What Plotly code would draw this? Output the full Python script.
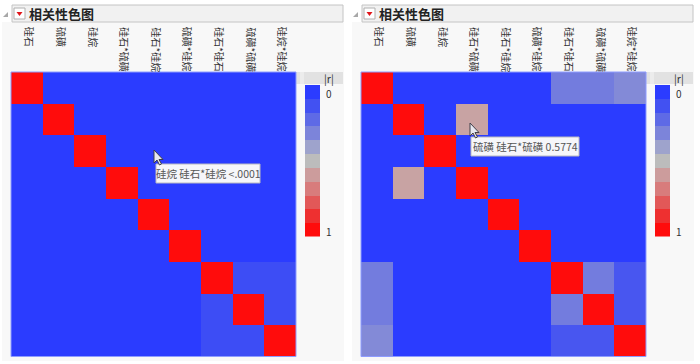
import plotly.graph_objects as go

# ---------------- data ----------------
labels = ["硅石", "硫磺", "硅烷", "硅石*硫磺", "硅石*硅烷", "硫磺*硅烷",
          "硅石*硅石", "硫磺*硫磺", "硅烷*硅烷"]

left_r = [
    [1, 0, 0, 0, 0, 0, 0, 0, 0],
    [0, 1, 0, 0, 0, 0, 0, 0, 0],
    [0, 0, 1, 0, 0, 0, 0, 0, 0],
    [0, 0, 0, 1, 0, 0, 0, 0, 0],
    [0, 0, 0, 0, 1, 0, 0, 0, 0],
    [0, 0, 0, 0, 0, 1, 0, 0, 0],
    [0, 0, 0, 0, 0, 0, 1, 0.08, 0.08],
    [0, 0, 0, 0, 0, 0, 0.08, 1, 0.08],
    [0, 0, 0, 0, 0, 0, 0.08, 0.08, 1],
]

right_r = [
    [1, 0, 0, 0, 0, 0, 0.27, 0.27, 0.32],
    [0, 1, 0, 0.5774, 0, 0, 0, 0, 0],
    [0, 0, 1, 0, 0, 0, 0, 0, 0],
    [0, 0.5774, 0, 1, 0, 0, 0, 0, 0],
    [0, 0, 0, 0, 1, 0, 0, 0, 0],
    [0, 0, 0, 0, 0, 1, 0, 0, 0],
    [0.27, 0, 0, 0, 0, 0, 1, 0.27, 0.12],
    [0.27, 0, 0, 0, 0, 0, 0.27, 1, 0.12],
    [0.32, 0, 0, 0, 0, 0, 0.12, 0.12, 1],
]

legend_levels = [0, 0.1, 0.2, 0.3, 0.4, 0.5, 0.6, 0.7, 0.8, 0.9, 1.0]
legend_colors = ["#2b3cff", "#4251f2", "#5e6ae6", "#7c84da", "#9ea3cc", "#bcbcbc",
                 "#cc9c9c", "#d87c7c", "#e25858", "#ee3030", "#ff0c0c"]
legend_tick_labels = ["0", "1"]
title_text = "相关性色图"
legend_title = "|r|"
tip_left = "硅烷 硅石*硅烷 <.0001"
tip_right = "硫磺 硅石*硫磺 0.5774"

# ---------------- helpers ----------------
W, H = 700, 364
FONT = "Noto Sans CJK SC, Noto Sans, sans-serif"


def X(px):
    return px / W


def Y(py):
    return 1 - py / H


colorscale = [[lv, c] for lv, c in zip(legend_levels, legend_colors)]

fig = go.Figure()
shapes = []
annotations = []

panels = [(0, left_r, tip_left, (154, 150), (156, 164, 260, 183)),
          (350, right_r, tip_right, (470, 123), (471, 137, 579, 156))]

axis_common = dict(showgrid=False, zeroline=False, showticklabels=False,
                   ticks="", showline=False, fixedrange=True)

for i, (ox, mat, tip, cur, tipbox) in enumerate(panels):
    # panel background
    shapes.append(dict(type="rect", xref="paper", yref="paper",
                       x0=X(ox + 2), x1=X(ox + 344), y0=Y(361), y1=Y(22),
                       fillcolor="#f8f8f8", line=dict(width=0), layer="below"))
    # title bar
    shapes.append(dict(type="rect", xref="paper", yref="paper",
                       x0=X(ox + 12), x1=X(ox + 343), y0=Y(22), y1=Y(5),
                       fillcolor="#f1f1f1", line=dict(color="#c4c4c4", width=1), layer="below"))
    # disclosure triangle
    shapes.append(dict(type="path", xref="paper", yref="paper",
                       path=f"M {X(ox+3)} {Y(17)} L {X(ox+8)} {Y(17)} L {X(ox+8)} {Y(12)} Z",
                       fillcolor="#a8a8a8", line=dict(width=0)))
    # red menu icon
    shapes.append(dict(type="rect", xref="paper", yref="paper",
                       x0=X(ox + 14), x1=X(ox + 25), y0=Y(19), y1=Y(8),
                       fillcolor="#ffffff", line=dict(color="#b0b0b0", width=1)))
    shapes.append(dict(type="path", xref="paper", yref="paper",
                       path=f"M {X(ox+16.5)} {Y(12)} L {X(ox+22.5)} {Y(12)} L {X(ox+19.5)} {Y(16)} Z",
                       fillcolor="#e0161b", line=dict(width=0)))
    annotations.append(dict(text=f"<b>{title_text}</b>", xref="paper", yref="paper",
                            x=X(ox + 27), y=Y(13.5), xanchor="left", yanchor="middle",
                            showarrow=False, font=dict(family=FONT, size=13, color="#222222")))
    # |r| header strip
    shapes.append(dict(type="rect", xref="paper", yref="paper",
                       x0=X(ox + 296), x1=X(ox + 343), y0=Y(84), y1=Y(72),
                       fillcolor="#e2e2e2", line=dict(width=0), layer="below"))
    shapes.append(dict(type="rect", xref="paper", yref="paper",
                       x0=X(ox + 300), x1=X(ox + 304), y0=Y(84), y1=Y(72),
                       fillcolor="#ececec", line=dict(width=0), layer="below"))
    annotations.append(dict(text=legend_title, xref="paper", yref="paper",
                            x=X(ox + 329), y=Y(78), xanchor="center", yanchor="middle",
                            showarrow=False, font=dict(family=FONT, size=10.5, color="#333333")))

    n = i * 2
    xa = "x" if n == 0 else f"x{n + 1}"
    ya = "y" if n == 0 else f"y{n + 1}"
    xb = f"x{n + 2}"
    yb = f"y{n + 2}"

    # correlation matrix
    fig.add_trace(go.Heatmap(z=mat, x=list(range(len(labels))), y=list(range(len(labels))),
                             colorscale=colorscale, zmin=0, zmax=1, showscale=False,
                             xaxis=xa, yaxis=ya, hoverinfo="skip"))
    # legend strip
    fig.add_trace(go.Heatmap(z=[[v] for v in legend_levels], x=[0],
                             y=list(range(len(legend_levels))),
                             colorscale=colorscale, zmin=0, zmax=1, showscale=False,
                             xaxis=xb, yaxis=yb, hoverinfo="skip"))

    key_xa = "xaxis" if n == 0 else f"xaxis{n + 1}"
    key_ya = "yaxis" if n == 0 else f"yaxis{n + 1}"
    fig.update_layout({
        key_xa: dict(domain=[X(ox + 11), X(ox + 296)], anchor=ya, **axis_common),
        key_ya: dict(domain=[Y(356.5), Y(72)], anchor=xa, autorange="reversed", **axis_common),
        f"xaxis{n + 2}": dict(domain=[X(ox + 305), X(ox + 320)], anchor=yb, **axis_common),
        f"yaxis{n + 2}": dict(domain=[Y(236.5), Y(85)], anchor=xb, autorange="reversed", **axis_common),
    })

    # matrix outline
    shapes.append(dict(type="rect", xref="paper", yref="paper",
                       x0=X(ox + 11), x1=X(ox + 296), y0=Y(356.5), y1=Y(72),
                       line=dict(color="#8e9cff", width=1)))

    # legend tick labels
    annotations.append(dict(text=legend_tick_labels[0], xref="paper", yref="paper",
                            x=X(ox + 324), y=Y(93), xanchor="left", yanchor="middle",
                            showarrow=False, font=dict(family=FONT, size=10, color="#333333")))
    annotations.append(dict(text=legend_tick_labels[1], xref="paper", yref="paper",
                            x=X(ox + 324), y=Y(231), xanchor="left", yanchor="middle",
                            showarrow=False, font=dict(family=FONT, size=10, color="#333333")))

    # column labels (rotated)
    for j, lab in enumerate(labels):
        annotations.append(dict(text=lab, xref=xa, yref="paper", x=j + 0.08, y=Y(25),
                                xanchor="center", yanchor="top", textangle=90,
                                showarrow=False,
                                font=dict(family=FONT, size=10, color="#333333")))

    # tooltip
    tx0, ty0, tx1, ty1 = tipbox
    shapes.append(dict(type="rect", xref="paper", yref="paper",
                       x0=X(tx0), x1=X(tx1), y0=Y(ty1), y1=Y(ty0),
                       fillcolor="#f6f6fa", line=dict(color="#b9b9c0", width=1)))
    annotations.append(dict(text=tip, xref="paper", yref="paper",
                            x=X((tx0 + tx1) / 2), y=Y((ty0 + ty1) / 2),
                            xanchor="center", yanchor="middle", showarrow=False,
                            font=dict(family=FONT, size=10.5, color="#555555")))
    # mouse cursor
    cx, cy = cur
    pts = [(0, 0), (0, 13), (3, 10), (5.5, 15), (7.5, 14), (5, 9.5), (9, 9.5)]
    path = "M " + " L ".join(f"{X(cx + a)} {Y(cy + b)}" for a, b in pts) + " Z"
    shapes.append(dict(type="path", xref="paper", yref="paper", path=path,
                       fillcolor="#e8e8f0", line=dict(color="#40404a", width=1)))

fig.update_layout(width=W, height=H, margin=dict(l=0, r=0, t=0, b=0),
                  paper_bgcolor="#ffffff", plot_bgcolor="rgba(0,0,0,0)",
                  shapes=shapes, annotations=annotations, showlegend=False)

fig.write_html("out.html", config={"displayModeBar": False, "staticPlot": True},
               post_script="document.body.style.margin='0';")
